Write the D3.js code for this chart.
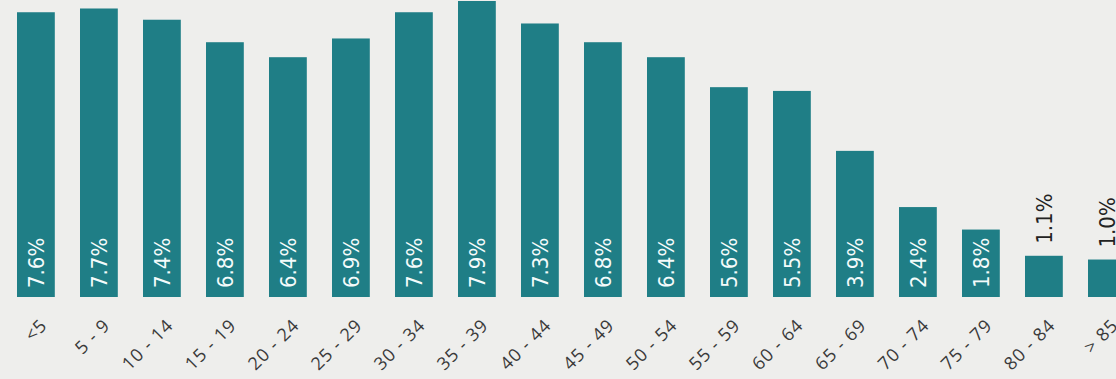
<!DOCTYPE html>
<html>
<head>
<meta charset="utf-8">
<script src="https://cdn.jsdelivr.net/npm/d3@7"></script>
<style>
  body { margin: 0; background: #eeeeec; }
  svg { display: block; }
</style>
</head>
<body>
<svg id="chart"></svg>
<script>
const width = 1116;
const height = 379;
const margins = { top: 0, left: 17, bottom: 82 };
const baseline = height - margins.bottom; // y of bar bottoms

// data
const ageGroups = ["<5", "5 - 9", "10 - 14", "15 - 19", "20 - 24", "25 - 29", "30 - 34", "35 - 39", "40 - 44",
    "45 - 49", "50 - 54", "55 - 59", "60 - 64", "65 - 69", "70 - 74", "75 - 79", "80 - 84", "> 85"];
const shares = [7.6, 7.7, 7.4, 6.8, 6.4, 6.9, 7.6, 7.9, 7.3, 6.8, 6.4, 5.6, 5.5, 3.9, 2.4, 1.8, 1.1, 1.0];
const data = ageGroups.map((g, i) => ({ group: g, value: shares[i] }));

const barColor = "#1f7e86";
const step = 63;

let svg = d3.select("#chart").attr("width", width).attr("height", height);

svg.append("rect")
    .attr("width", width)
    .attr("height", height)
    .attr("fill", "#eeeeec");

let xscale = d3.scaleBand(ageGroups, [margins.left, margins.left + step * (ageGroups.length - 0.4)])
    .paddingInner(0.4)
    .paddingOuter(0);

let yscale = d3.scaleLinear([0, 7.9], [baseline, 1]);

// bars
svg.selectAll(".bar")
    .data(data)
    .enter()
    .append("rect")
    .attr("class", "bar")
    .attr("x", d => xscale(d.group))
    .attr("y", d => yscale(d.value))
    .attr("width", xscale.bandwidth())
    .attr("height", d => baseline - yscale(d.value))
    .attr("fill", barColor);

// value labels, inside the bar when it is tall enough, above it otherwise
svg.selectAll(".val")
    .data(data)
    .enter()
    .append("text")
    .attr("class", "val")
    .attr("transform", d => {
        let cx = xscale(d.group) + xscale.bandwidth() / 2 + 8;
        let y = d.value > 1.5 ? baseline - 9 : yscale(d.value) - 12;
        return `translate(${cx}, ${y}) rotate(-90)`;
    })
    .attr("fill", d => d.value > 1.5 ? "#f4fbfb" : "#222222")
    .style("font-family", "'Liberation Sans Narrow', 'DejaVu Sans Condensed', sans-serif")
    .style("font-size", "22px")
    .text(d => d.value.toFixed(1) + "%");

// category axis, labels rotated
let xaxis = d3.axisBottom(xscale).tickSize(0).tickPadding(0);
let axisG = svg.append("g")
    .attr("transform", `translate(0, ${baseline})`)
    .call(xaxis);
axisG.select(".domain").remove();
axisG.selectAll("text")
    .attr("transform", "translate(8, 25) rotate(-45)")
    .attr("dy", "0.35em")
    .attr("y", 0)
    .style("text-anchor", "end")
    .style("font-family", "'Open Sans', sans-serif")
    .style("font-size", "18px")
    .style("letter-spacing", "1px")
    .attr("fill", "#3a3a3a");
</script>
</body>
</html>
